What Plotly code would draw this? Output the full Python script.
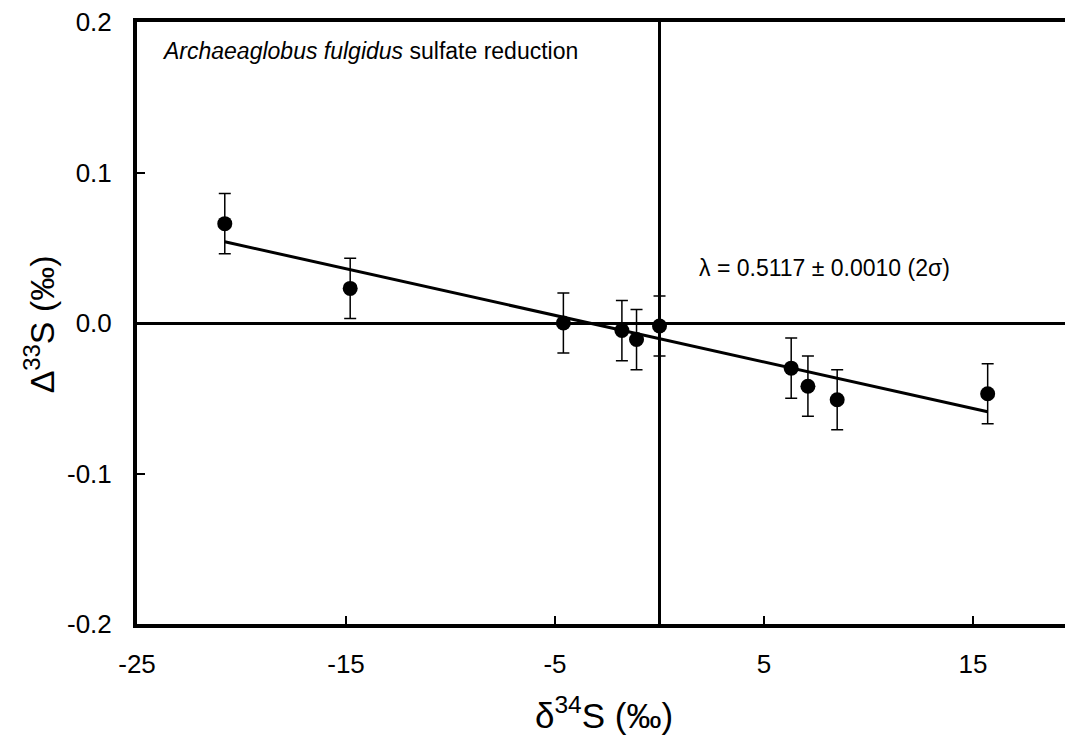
import plotly.graph_objects as go

# Measured isotope data (per mil)
d34S = [-20.8, -14.8, -4.6, -1.8, -1.1, 0.0, 6.3, 7.1, 8.5, 15.7]
D33S = [0.066, 0.023, 0.000, -0.005, -0.011, -0.002, -0.030, -0.042, -0.051, -0.047]
D33S_err = [0.020, 0.020, 0.020, 0.020, 0.020, 0.020, 0.020, 0.020, 0.020, 0.020]

# End points of the regression line
fit_x = [-20.8, 15.7]
fit_y = [0.054, -0.059]

x_ticks = [-25, -15, -5, 5, 15]
x_ticktext = ["-25", "-15", "-5", "5", "15"]
y_ticks = [-0.2, -0.1, 0.0, 0.1, 0.2]
y_ticktext = ["-0.2", "-0.1", "0.0", "0.1", "0.2"]

FONT = "Liberation Sans, Arial, sans-serif"

fig = go.Figure()

fig.add_trace(go.Scatter(
    x=fit_x, y=fit_y, mode="lines",
    line=dict(color="black", width=3),
    showlegend=False, hoverinfo="skip",
))

fig.add_trace(go.Scatter(
    x=d34S, y=D33S, mode="markers",
    marker=dict(color="black", size=15),
    error_y=dict(type="data", array=D33S_err, visible=True,
                 color="black", thickness=1.5, width=6),
    showlegend=False,
))

fig.add_annotation(
    x=-23.9, y=0.181, xref="x", yref="y", xanchor="left", yanchor="middle",
    text="<i>Archaeaglobus fulgidus</i> sulfate reduction",
    showarrow=False, font=dict(family=FONT, size=23, color="black"),
)
fig.add_annotation(
    x=1.8, y=0.0365, xref="x", yref="y", xanchor="left", yanchor="middle",
    text="λ = 0.5117 ± 0.0010 (2σ)",
    showarrow=False, font=dict(family=FONT, size=23, color="black"),
)

# Axis titles
fig.add_annotation(
    x=0.503, y=-0.148, xref="paper", yref="paper", xanchor="center", yanchor="middle",
    text="δ<sup>34</sup>S (‰)", showarrow=False,
    font=dict(family=FONT, size=35, color="black"),
)
fig.add_annotation(
    x=-0.105, y=0.497, xref="paper", yref="paper", xanchor="center", yanchor="middle",
    text="Δ<sup>33</sup>S (‰)", showarrow=False, textangle=-90,
    font=dict(family=FONT, size=34, color="black"),
)

fig.update_layout(
    width=1065, height=736,
    margin=dict(l=137, r=0, t=22, b=112),
    paper_bgcolor="white", plot_bgcolor="white",
    font=dict(family=FONT, size=26, color="black"),
    showlegend=False,
)

fig.update_xaxes(
    range=[-25, 19.4], tickvals=x_ticks, ticktext=x_ticktext, ticks="inside",
    ticklen=8, tickwidth=2, tickcolor="black", showline=True, linecolor="black",
    linewidth=4, mirror=True, showgrid=False, zeroline=True, zerolinecolor="black",
    zerolinewidth=2.5, tickfont=dict(size=26), ticklabelstandoff=14,
)
fig.update_yaxes(
    range=[-0.2, 0.2], tickvals=y_ticks, ticktext=y_ticktext, ticks="inside",
    ticklen=8, tickwidth=2, tickcolor="black", showline=True, linecolor="black",
    linewidth=4, mirror=False, showgrid=False, zeroline=True, zerolinecolor="black",
    zerolinewidth=2.5, tickfont=dict(size=26), ticklabelstandoff=16,
)

fig.write_html("out.html")
